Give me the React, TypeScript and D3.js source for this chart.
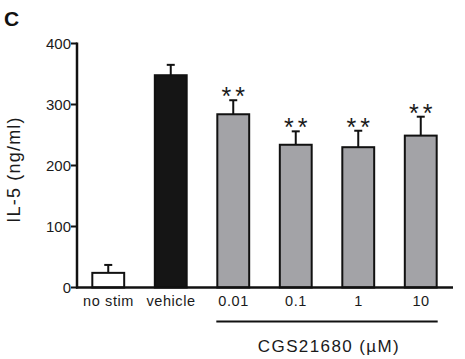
import React from 'react';
import * as d3 from 'd3';

const categories = ['no stim', 'vehicle', '0.01', '0.1', '1', '10'];
const means = [24, 348, 284, 234, 230, 249];
const errors = [13, 17, 23, 22, 27, 31];
const marks = ['', '', '**', '**', '**', '**'];
const barColors = ['#ffffff', '#151515', '#a3a3a7', '#a3a3a7', '#a3a3a7', '#a3a3a7'];
const yTicks = [0, 100, 200, 300, 400];
const groupLabel = 'CGS21680 (\u00b5M)';

const W = 465;
const H = 359;
const font = '"Liberation Sans", Arial, Helvetica, sans-serif';

export default function App() {
  const x = d3.scaleBand<string>()
    .domain(categories)
    .range([77, 452])
    .paddingInner(0.49)
    .paddingOuter(0.245);
  const y = d3.scaleLinear().domain([0, 400]).range([287.5, 43.5]);
  const bw = x.bandwidth();

  // bracket under the CGS21680 doses
  const doses = categories.slice(2);
  const bx0 = (x(doses[0]) as number) - 1;
  const bx1 = (x(doses[doses.length - 1]) as number) + bw + 1;

  return (
    <div style={{ position: 'absolute', left: 0, top: 0 }}>
      <svg width={W} height={H} style={{ display: 'block', background: '#fff' }} fontFamily={font}>
        <text x={4} y={26} fontSize={21} fontWeight="bold" fill="#111">C</text>

        {/* y axis */}
        <line x1={x.range()[0]} x2={x.range()[0]} y1={y(0) + 1} y2={y(400) - 1} stroke="#111" strokeWidth={2.5} />
        {yTicks.map(t => (
          <g key={t}>
            <line x1={71} x2={77} y1={y(t)} y2={y(t)} stroke="#111" strokeWidth={2} />
            <text x={71} y={y(t) + 5} textAnchor="end" fontSize={15} fill="#1a1a1a">{t}</text>
          </g>
        ))}
        <text transform={`translate(20,${(y(0) + y(400)) / 2 + 4}) rotate(-90)`} textAnchor="middle"
          fontSize={18} letterSpacing={1.2} fill="#1a1a1a">IL-5 (ng/ml)</text>

        {/* bars */}
        {categories.map((c, i) => {
          const bx = x(c) as number;
          const cx = bx + bw / 2;
          const top = y(means[i]);
          const et = y(means[i] + errors[i]);
          return (
            <g key={c}>
              <line x1={cx} x2={cx} y1={top} y2={et} stroke="#111" strokeWidth={2} />
              <line x1={cx - 4} x2={cx + 4} y1={et} y2={et} stroke="#111" strokeWidth={2} />
              <rect x={bx} y={top} width={bw} height={y(0) - top} fill={barColors[i]} stroke="#111" strokeWidth={2} />
              {marks[i] && (
                <text x={cx + 2} y={et + 5} textAnchor="middle" fontSize={25} letterSpacing={4} fill="#1a1a1a">{marks[i]}</text>
              )}
              <text x={cx + 0.3} y={306} textAnchor="middle" fontSize={14.5} letterSpacing={0.6} fill="#1a1a1a">{c}</text>
            </g>
          );
        })}

        {/* x axis */}
        <line x1={x.range()[0] - 1} x2={453} y1={y(0)} y2={y(0)} stroke="#111" strokeWidth={2.5} />

        <line x1={bx0} x2={bx1} y1={321.5} y2={321.5} stroke="#111" strokeWidth={2} />
        <text x={(bx0 + bx1) / 2 + 2} y={352} textAnchor="middle" fontSize={17} letterSpacing={1.4} fill="#1a1a1a">{groupLabel}</text>
      </svg>
    </div>
  );
}
